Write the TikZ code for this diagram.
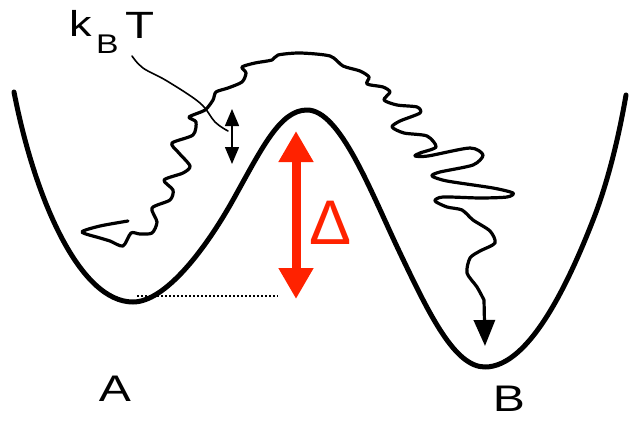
\documentclass[tikz,border=0pt]{standalone}
\usepackage{fontspec}
\setmainfont{Liberation Sans}
\usetikzlibrary{arrows.meta}
\definecolor{redarrow}{RGB}{255,34,0}
\tikzset{
  curve/.style={line width=5pt, line cap=round, line join=round},
  wiggle/.style={line width=3.2pt, line cap=round, line join=round},
  lbl/.style={inner sep=0pt, font=\fontsize{37}{37}\selectfont},
}
\begin{document}
\begin{tikzpicture}[x=1pt,y=-1pt]
\useasboundingbox (0,0) rectangle (631,420);
\fill[white] (0,0) rectangle (631,420);
% energy landscape
\coordinate (c0) at (14,92);
\coordinate (minA) at (133,302);
\coordinate (i1) at (233,200);
\coordinate (peak) at (307,110);
\coordinate (i2) at (400,253);
\coordinate (minB) at (485,367);
\coordinate (i3) at (595,215);
\coordinate (c9) at (626,95);
\draw[curve] (c0) .. controls (35,200) and (80,302) .. (minA)
  .. controls (165,302) and (205,250) .. (i1)
  .. controls (262,148) and (280,110) .. (peak)
  .. controls (340,110) and (370,190) .. (i2)
  .. controls (430,316) and (455,367) .. (minB)
  .. controls (530,367) and (570,280) .. (i3)
  .. controls (610,175) and (620,130) .. (c9);
% dotted reference level
\coordinate (d1) at (137,296);
\coordinate (d2) at (278,296);
\draw[line width=1.8pt, dash pattern=on 2pt off 2pt] (d1) -- (d2);
% wiggly trajectory
\coordinate (wend) at (485,346);
\draw[wiggle, -{Triangle[width=21pt,length=26pt]}] plot[smooth, tension=0.45] coordinates {
 (128,221) (100,226) (82,232) (100,238) (110,241) (123,246) (131,233) (140,234)
 (152,233) (157,222) (152,208) (170,200) (173,190) (164,180) (183,173) (190,166)
 (178,152) (172,143) (193,135) (196,122) (189,117) (205,110) (213,100) (216,92)
 (228,88) (242,82) (246,73) (242,67) (255,63) (272,60) (278,55) (300,53)
 (330,56) (343,66) (360,71) (369,77) (367,84) (383,87) (390,92) (384,100)
 (397,105) (417,107) (420,113) (400,121) (392,127) (404,133) (427,136) (436,147)
 (420,153) (415,156) (428,156) (470,148) (483,155) (473,165) (440,172) (432,176)
 (447,181) (493,188) (513,193) (507,197) (480,198) (443,197) (435,201) (447,207)
 (462,210) (473,220) (490,231) (495,243) (480,251) (470,258) (467,273) (477,287)
 (484,300)} -- (wend);
% kBT label and leader
\node[anchor=base west, inner sep=0pt, font=\fontsize{36}{36}\selectfont] (k) at (69,37) {\scalebox{1.25}[1]{k}};
\node[anchor=base west, inner sep=0pt, font=\fontsize{27}{27}\selectfont] (kb) at (96,53) {\scalebox{1.25}[1]{B}};
\node[anchor=base west, inner sep=0pt, font=\fontsize{38}{38}\selectfont] (kt) at (125,39) {\scalebox{1.25}[1]{T}};
\coordinate (l0) at (132,56);
\coordinate (l1) at (228,131);
\draw[line width=1.6pt, line cap=round] plot[smooth, tension=0.6] coordinates {(l0) (143,68) (167,81) (200,103) (215,122) (l1)};
% small thermal double arrow
\coordinate (s1) at (232,109);
\coordinate (s2) at (232,164);
\draw[line width=1.5pt, {Triangle[width=14pt,length=17pt]}-{Triangle[width=14pt,length=17pt]}] (s1) -- (s2);
% red barrier arrow
\coordinate (r1) at (296,131);
\coordinate (r2) at (296,299);
\draw[redarrow, line width=9pt, {Triangle[width=33pt,length=31pt]}-{Triangle[width=33pt,length=31pt]}] (r1) -- (r2);
\node[redarrow, inner sep=0pt, font=\fontsize{63}{63}\selectfont] (delta) at (331,222.5) {Δ};
% well labels
\node[lbl] (A) at (115,389) {\scalebox{1.3}[1]{A}};
\node[lbl] (B) at (509,399) {\scalebox{1.3}[1]{B}};
\end{tikzpicture}
\end{document}
